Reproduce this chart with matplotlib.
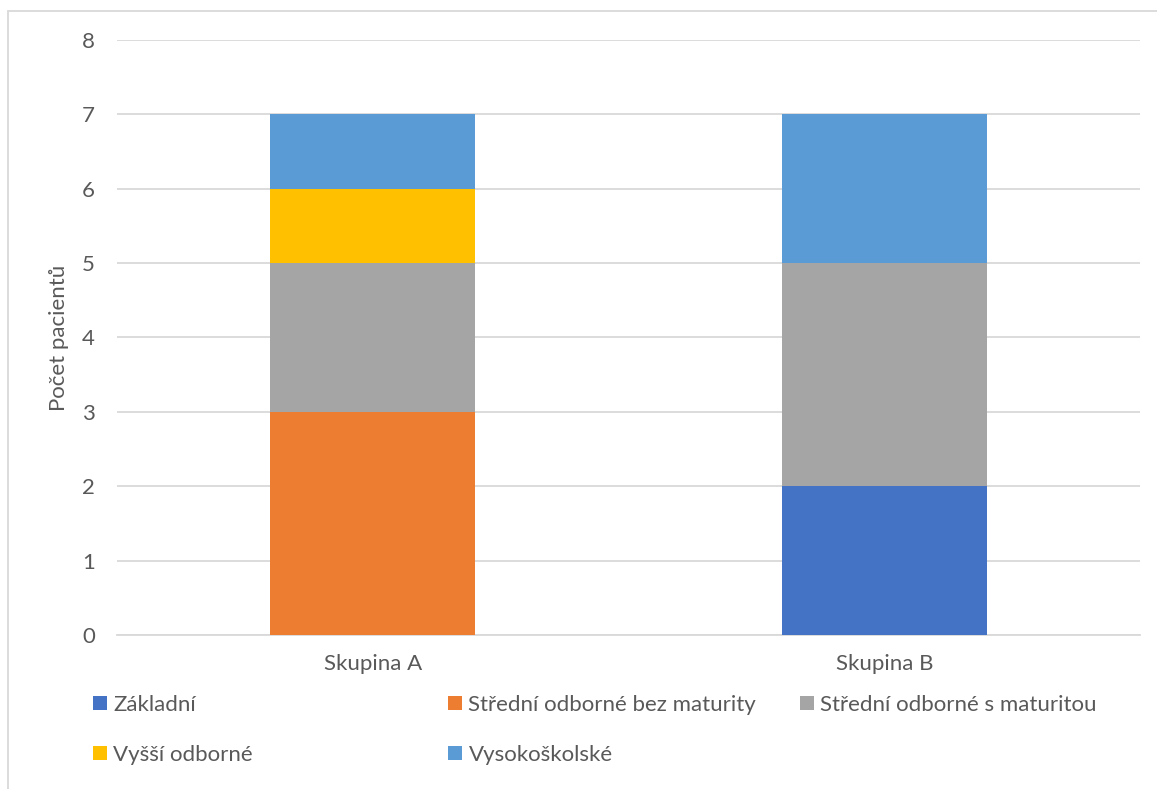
import matplotlib
matplotlib.use("Agg")
import matplotlib.pyplot as plt
import numpy as np
from matplotlib.patches import Rectangle

groups = ["Skupina A", "Skupina B"]
series_names = [
    "Základní",
    "Střední odborné bez maturity",
    "Střední odborné s maturitou",
    "Vyšší odborné",
    "Vysokoškolské",
]
zakladni = [0, 2]
stredni_bez = [3, 0]
stredni_s = [2, 3]
vyssi = [1, 0]
vysokoskolske = [1, 2]
series_values = [zakladni, stredni_bez, stredni_s, vyssi, vysokoskolske]
colors = ["#4472C4", "#ED7D31", "#A5A5A5", "#FFC000", "#5B9BD5"]
y_ticks = list(range(0, 9))

plt.rcParams["font.family"] = ["Lato", "DejaVu Sans"]
text_color = "#595959"
grid_color = "#D9D9D9"
fs = 16

W, H = 1157, 789
fig = plt.figure(figsize=(W / 100, H / 100), dpi=100)
fig.patch.set_facecolor("white")
# chart-area border
fig.patches.append(Rectangle((8 / W, -0.05), 1.2, 1 - 11 / H + 0.05,
                             transform=fig.transFigure, fill=False,
                             edgecolor=grid_color, linewidth=1.3))

ax = fig.add_axes([117 / W, 1 - 635 / H, (1140 - 117) / W, (635 - 40) / H])
x = np.arange(len(groups))
bottom = np.zeros(len(groups))
containers = []
for name, vals, c in zip(series_names, series_values, colors):
    bc = ax.bar(x, vals, width=0.4, bottom=bottom, color=c, label=name, zorder=3)
    containers.append(bc)
    bottom += np.array(vals)

ax.set_xlim(-0.5, 1.5)
ax.set_ylim(0, 8)
ax.set_yticks(y_ticks)
ax.set_xticks(x)
ax.set_xticklabels(groups)
ax.yaxis.grid(True, color=grid_color, linewidth=1.3, zorder=0)
ax.set_axisbelow(True)
for s in ["top", "right", "left"]:
    ax.spines[s].set_visible(False)
ax.spines["bottom"].set_color(grid_color)
ax.spines["bottom"].set_linewidth(1.3)
ax.tick_params(axis="both", length=0, colors=text_color, labelsize=fs)
ax.tick_params(axis="y", pad=16)
ax.tick_params(axis="x", pad=14)
ax.set_ylabel("Počet pacientů", color=text_color, fontsize=fs, labelpad=9)

# legend entries placed in a two-row grid
positions = [(93, 705), (448, 705), (800, 705), (93, 755), (448, 755)]
for bc, name, (px, py) in zip(containers, series_names, positions):
    leg = fig.legend([bc], [name], loc="center left",
                     bbox_to_anchor=(px / W, 1 - py / H),
                     frameon=False, fontsize=fs, handlelength=0.62,
                     handleheight=0.62, handletextpad=0.3, borderpad=0,
                     borderaxespad=0)
    for t in leg.get_texts():
        t.set_color(text_color)

fig.savefig("out.png", dpi=100)
